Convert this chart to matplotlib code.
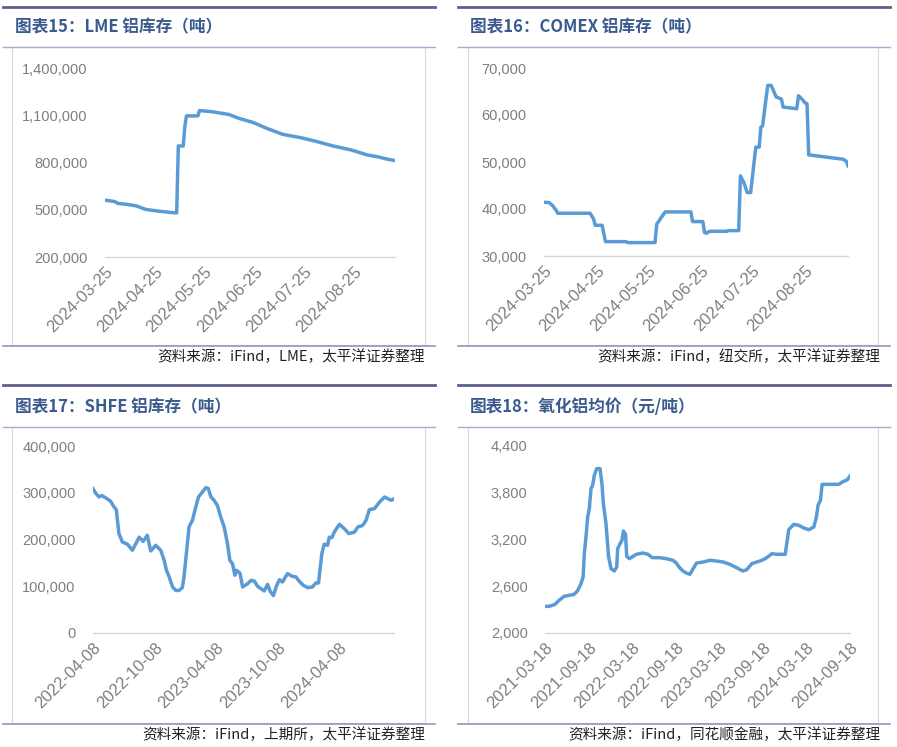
import matplotlib
matplotlib.use("Agg")
import matplotlib.pyplot as plt
import matplotlib.dates as mdates
from matplotlib.lines import Line2D
from matplotlib.patches import Rectangle
import pandas as pd

plt.rcParams['font.family'] = ['Liberation Sans', 'Noto Sans CJK SC', 'DejaVu Sans']

W, H = 897, 747

# ---- data ----
lme_dates = ['2024-03-25', '2024-03-31', '2024-04-02', '2024-04-07', '2024-04-13', '2024-04-19',
             '2024-04-27', '2024-05-05', '2024-05-08', '2024-05-09', '2024-05-12', '2024-05-13',
             '2024-05-14', '2024-05-21', '2024-05-22', '2024-05-30', '2024-06-09', '2024-06-15',
             '2024-06-24', '2024-07-02', '2024-07-12', '2024-07-23', '2024-08-02', '2024-08-12',
             '2024-08-23', '2024-09-02', '2024-09-08', '2024-09-14', '2024-09-19']
lme_values = [561000, 552000, 540000, 535000, 525000, 502000,
              491000, 482000, 480000, 905000, 905000, 1028000,
              1096000, 1096000, 1130000, 1122000, 1105000, 1081000,
              1054000, 1018000, 979000, 958000, 933000, 905000,
              880000, 848000, 837000, 822000, 812000]

comex_dates = ['2024-03-25', '2024-03-28', '2024-03-30', '2024-04-01', '2024-04-02', '2024-04-21',
               '2024-04-23', '2024-04-24', '2024-04-28', '2024-04-30', '2024-05-12', '2024-05-13',
               '2024-05-29', '2024-05-30', '2024-06-02', '2024-06-04', '2024-06-19', '2024-06-20',
               '2024-06-26', '2024-06-27', '2024-06-28', '2024-06-30', '2024-07-10', '2024-07-11',
               '2024-07-17', '2024-07-18', '2024-07-20', '2024-07-22', '2024-07-24', '2024-07-27',
               '2024-07-29', '2024-07-30', '2024-07-31', '2024-08-03', '2024-08-05', '2024-08-08',
               '2024-08-11', '2024-08-12', '2024-08-20', '2024-08-21', '2024-08-23', '2024-08-25',
               '2024-08-26', '2024-08-27', '2024-09-08', '2024-09-16', '2024-09-18', '2024-09-19']
comex_values = [41440, 41370, 40730, 39800, 39100, 39100,
                37900, 36540, 36540, 33060, 33060, 32850,
                32850, 36750, 38390, 39380, 39380, 37320,
                37320, 35000, 34840, 35260, 35260, 35400,
                35400, 47050, 45630, 43500, 43500, 53160,
                53160, 57430, 57710, 66300, 66300, 63820,
                63390, 61690, 61330, 64100, 63390, 62540,
                62400, 51530, 50960, 50600, 50180, 49190]

shfe_dates = ['2022-04-08', '2022-04-16', '2022-04-26', '2022-05-04', '2022-05-16', '2022-05-30',
              '2022-06-09', '2022-06-16', '2022-06-24', '2022-07-04', '2022-07-19', '2022-08-03',
              '2022-08-13', '2022-08-23', '2022-09-04', '2022-09-16', '2022-09-26', '2022-10-11',
              '2022-10-26', '2022-11-05', '2022-11-12', '2022-11-20', '2022-11-30', '2022-12-10',
              '2022-12-19', '2022-12-29', '2023-01-03', '2023-01-10', '2023-01-18', '2023-01-28',
              '2023-02-07', '2023-02-15', '2023-02-27', '2023-03-09', '2023-03-16', '2023-03-24',
              '2023-04-02', '2023-04-12', '2023-04-22', '2023-05-02', '2023-05-12', '2023-05-19',
              '2023-05-27', '2023-06-03', '2023-06-08', '2023-06-18', '2023-06-26', '2023-07-11',
              '2023-07-21', '2023-07-31', '2023-08-09', '2023-08-19', '2023-08-29', '2023-09-08',
              '2023-09-15', '2023-09-25', '2023-10-05', '2023-10-13', '2023-10-22', '2023-11-06',
              '2023-11-21', '2023-12-01', '2023-12-11', '2023-12-23', '2024-01-05', '2024-01-19',
              '2024-01-29', '2024-02-06', '2024-02-16', '2024-02-23', '2024-03-04', '2024-03-09',
              '2024-03-17', '2024-03-24', '2024-04-08', '2024-04-23', '2024-05-06', '2024-05-23',
              '2024-06-02', '2024-06-16', '2024-06-26', '2024-07-06', '2024-07-21', '2024-08-05',
              '2024-08-20', '2024-08-30', '2024-09-09', '2024-09-17']
shfe_values = [308700, 299000, 291000, 294000, 289000, 282000,
               270000, 264000, 212500, 194700, 190000, 177000,
               191000, 205000, 196000, 209000, 175500, 187500,
               177000, 155500, 134000, 120000, 98400, 91000,
               91000, 97000, 120000, 170000, 227000, 241000,
               270000, 291000, 302000, 311000, 309000, 291000,
               284000, 273000, 248000, 227000, 191000, 155500,
               148000, 123500, 134000, 128000, 98400, 105600,
               112700, 111000, 100000, 95000, 90000, 104000,
               90000, 80000, 102000, 114000, 109000, 127000,
               121000, 120000, 110500, 102000, 97000, 98400,
               107000, 107000, 170000, 190000, 187500, 205000,
               204000, 216000, 232500, 223000, 212500, 216000,
               227000, 230000, 241000, 264000, 266000, 280000,
               291000, 287000, 284000, 287000]

alumina_dates = ['2021-03-18', '2021-04-04', '2021-04-29', '2021-05-16', '2021-06-06', '2021-06-27',
                 '2021-07-18', '2021-08-01', '2021-08-15', '2021-08-25', '2021-08-30', '2021-09-06',
                 '2021-09-13', '2021-09-20', '2021-09-27', '2021-10-04', '2021-10-11', '2021-10-21',
                 '2021-11-04', '2021-11-12', '2021-11-18', '2021-11-29', '2021-12-10', '2021-12-20',
                 '2022-01-03', '2022-01-13', '2022-01-17', '2022-01-27', '2022-02-04', '2022-02-10',
                 '2022-02-19', '2022-02-24', '2022-03-07', '2022-04-05', '2022-05-03', '2022-05-24',
                 '2022-06-11', '2022-07-12', '2022-08-09', '2022-09-06', '2022-09-20', '2022-10-04',
                 '2022-10-18', '2022-11-01', '2022-11-16', '2022-11-30', '2022-12-14', '2023-01-11',
                 '2023-02-08', '2023-03-08', '2023-04-05', '2023-05-03', '2023-05-31', '2023-06-26',
                 '2023-07-13', '2023-08-03', '2023-08-24', '2023-09-14', '2023-10-05', '2023-10-26',
                 '2023-11-16', '2023-12-21', '2024-01-05', '2024-01-26', '2024-02-16', '2024-03-08',
                 '2024-03-29', '2024-04-19', '2024-04-30', '2024-05-07', '2024-05-17', '2024-05-24',
                 '2024-06-07', '2024-06-28', '2024-08-02', '2024-08-17', '2024-09-07', '2024-09-18']
alumina_values = [2342, 2342, 2368, 2419, 2471, 2483,
                  2496, 2539, 2625, 2719, 3018, 3232,
                  3489, 3596, 3852, 3895, 4024, 4109,
                  4109, 3916, 3660, 3403, 2975, 2826,
                  2796, 2847, 3082, 3147, 3189, 3309,
                  3266, 2984, 2954, 3010, 3027, 3010,
                  2967, 2967, 2954, 2933, 2898, 2838,
                  2796, 2770, 2753, 2826, 2898, 2911,
                  2933, 2924, 2911, 2881, 2838, 2796,
                  2813, 2890, 2911, 2933, 2967, 3018,
                  3010, 3010, 3326, 3395, 3382, 3348,
                  3326, 3360, 3489, 3639, 3703, 3908,
                  3908, 3908, 3908, 3938, 3968, 4015]

lme_xticks = ['2024-03-25', '2024-04-25', '2024-05-25', '2024-06-25', '2024-07-25', '2024-08-25']
shfe_xticks = ['2022-04-08', '2022-10-08', '2023-04-08', '2023-10-08', '2024-04-08']
alumina_xticks = ['2021-03-18', '2021-09-18', '2022-03-18', '2022-09-18',
                  '2023-03-18', '2023-09-18', '2024-03-18', '2024-09-18']

lme_yticks = [200000, 500000, 800000, 1100000, 1400000]
comex_yticks = [30000, 40000, 50000, 60000, 70000]
shfe_yticks = [0, 100000, 200000, 300000, 400000]
alumina_yticks = [2000, 2600, 3200, 3800, 4400]

titles = ['图表15：LME 铝库存（吨）', '图表16：COMEX 铝库存（吨）',
          '图表17：SHFE 铝库存（吨）', '图表18：氧化铝均价（元/吨）']
sources = ['资料来源：iFind，LME，太平洋证券整理', '资料来源：iFind，纽交所，太平洋证券整理',
           '资料来源：iFind，上期所，太平洋证券整理', '资料来源：iFind，同花顺金融，太平洋证券整理']

LINE_C = '#5b9bd5'
TITLE_C = '#3b5b8e'


def rect(x0, y0, x1, y1):
    return [x0 / W, 1 - y1 / H, (x1 - x0) / W, (y1 - y0) / H]


def hline(fig, x0, x1, y, color, lw):
    fig.add_artist(Line2D([x0 / W, x1 / W], [1 - y / H, 1 - y / H], color=color, lw=lw,
                          transform=fig.transFigure))


fig = plt.figure(figsize=(W / 100, H / 100), dpi=100)

# panel frames: (line x0, line x1, box x0, box x1, top y, title y, thin y, bottom y, title x, source x)
frames = [
    (3, 435, 12, 425, 7, 27, 47, 346, 15, 425),
    (458, 890, 468, 878, 7, 27, 47, 346, 470, 880),
    (3, 435, 12, 425, 385, 407, 427, 724, 15, 425),
    (458, 890, 468, 878, 385, 407, 427, 724, 470, 880),
]
for i, (lx0, lx1, bx0, bx1, ty, tity, thy, by, tx, sx) in enumerate(frames):
    hline(fig, lx0, lx1, ty, '#5d5f8e', 2.0)
    fig.add_artist(Rectangle((bx0 / W, 1 - (by - 1) / H), (bx1 - bx0) / W, (by - 1 - thy) / H,
                             transform=fig.transFigure, fill=False, ec='#d9d9d9', lw=0.8))
    hline(fig, lx0, lx1, thy, '#a9aacd', 1.0)
    hline(fig, lx0, lx1, by, '#9495c2', 1.2)
    fig.text(tx / W, 1 - tity / H, titles[i], color=TITLE_C, fontsize=12, fontweight='bold',
             family=['Noto Sans CJK SC', 'DejaVu Sans'], va='center', ha='left')
    fig.text(sx / W, 1 - (by + 11) / H, sources[i], color='#222222', fontsize=10.5,
             style='italic', family=['Noto Sans CJK SC', 'DejaVu Sans'], va='center', ha='right')

panels = [
    (rect(105, 68, 395, 257), lme_dates, lme_values, lme_xticks, lme_yticks),
    (rect(544, 68, 848, 256), comex_dates, comex_values, lme_xticks, comex_yticks),
    (rect(93, 446, 394, 633), shfe_dates, shfe_values, shfe_xticks, shfe_yticks),
    (rect(545, 446, 850, 633), alumina_dates, alumina_values, alumina_xticks, alumina_yticks),
]

for r, dates, values, xticks, yticks in panels:
    ax = fig.add_axes(r)
    d = pd.to_datetime(dates)
    ax.plot(d, values, color=LINE_C, lw=2.5, solid_joinstyle='round')
    ax.set_xlim(d[0], d[-1])
    ax.set_ylim(yticks[0], yticks[-1])
    ax.set_yticks(yticks)
    ax.yaxis.set_major_formatter(matplotlib.ticker.FuncFormatter(lambda v, p: f'{int(v):,}'))
    ax.set_xticks(pd.to_datetime(xticks))
    ax.xaxis.set_major_formatter(mdates.DateFormatter('%Y-%m-%d'))
    for s in ['top', 'left', 'right']:
        ax.spines[s].set_visible(False)
    ax.spines['bottom'].set_color('#d9d9d9')
    ax.spines['bottom'].set_linewidth(1.0)
    ax.tick_params(axis='both', length=0, colors='#7f7f7f')
    ax.tick_params(axis='y', pad=12.5, labelsize=10.5)
    ax.tick_params(axis='x', pad=5, labelsize=12)
    for lab in ax.get_xticklabels():
        lab.set_rotation(45)
        lab.set_ha('right')
        lab.set_rotation_mode('anchor')
    ax.patch.set_alpha(0)

fig.savefig('out.png', dpi=100)
